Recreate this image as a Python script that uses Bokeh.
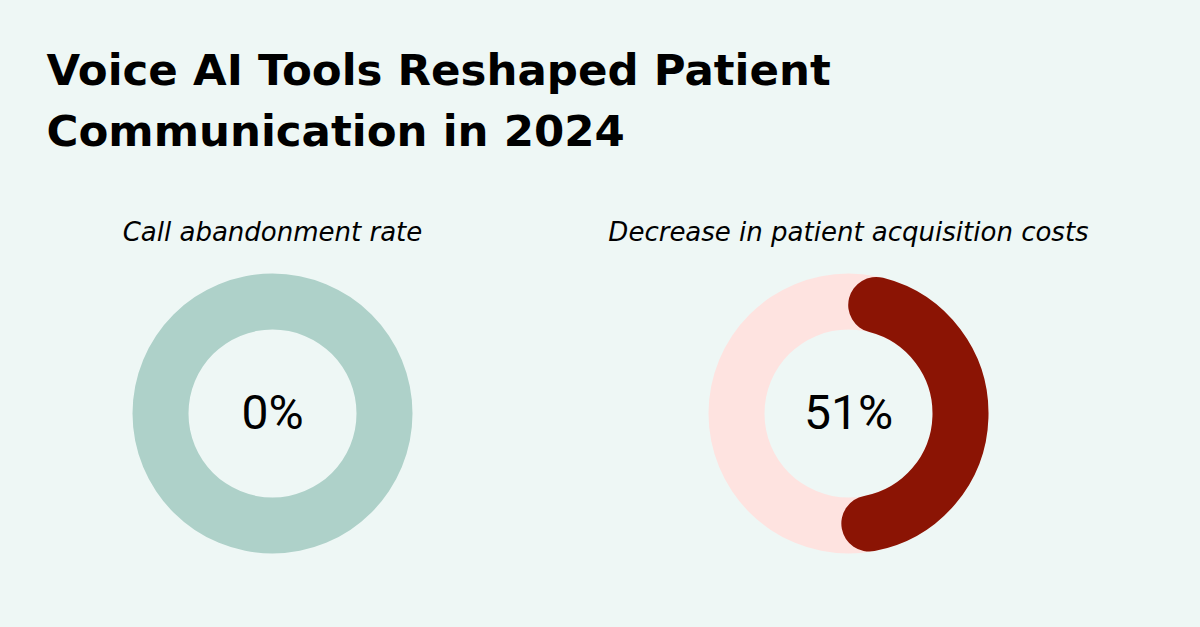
import math
from bokeh.plotting import figure
from bokeh.models import Range1d
from bokeh.core.properties import value
from bokeh.embed import file_html
from bokeh.resources import INLINE

# ---- data ----
title_lines = ["Voice AI Tools Reshaped Patient", "Communication in 2024"]
metric_labels = ["Call abandonment rate", "Decrease in patient acquisition costs"]
metric_values = [0, 51]
value_labels = ["0%", "51%"]
track_colors = ["#aed1c9", "#fee3e0"]
arc_colors = ["#aed1c9", "#8b1404"]

BG = "#eef7f5"
W, H = 1200, 627

p = figure(width=W, height=H, output_backend="svg", toolbar_location=None,
           x_range=Range1d(0, W), y_range=Range1d(0, H),
           min_border=0, min_border_left=0, min_border_right=0, min_border_top=0, min_border_bottom=0)
p.axis.visible = False
p.grid.visible = False
p.outline_line_color = None
p.background_fill_color = BG
p.border_fill_color = BG

def Y(y):
    return H - y

def txt(x, base, s, font, style, fs, align):
    # compensate renderer baseline offset (~0.4em)
    p.text(x=[x], y=[Y(base - 0.4 * fs)], text=[s], text_font=value(font),
           text_font_style=style, text_font_size="%gpx" % fs, text_color="#000000",
           text_baseline="alphabetic", text_align=align)

# title
for i, line in enumerate(title_lines):
    txt(46, 87 + 61 * i, line, "DejaVu Sans", "bold", 43.5, "left")

centers_x = [272, 848]
cy = 413
r_out, r_in = 140, 84
r_mid = (r_out + r_in) / 2
lw = r_out - r_in

for i in range(2):
    cx = centers_x[i]
    p.annulus(x=[cx], y=[Y(cy)], inner_radius=r_in, outer_radius=r_out,
              fill_color=track_colors[i], line_color=None)
    v = metric_values[i]
    if v > 0:
        span = v / 100 * 2 * math.pi
        cap = (lw / 2) / r_mid
        p.arc(x=[cx], y=[Y(cy)], radius=r_mid,
              start_angle=math.pi / 2 - (span - cap), end_angle=math.pi / 2 - cap,
              direction="anticlock", line_color=arc_colors[i], line_width=lw, line_cap="round")
    txt(cx, 242, metric_labels[i], "DejaVu Sans", "italic", 26, "center")
    txt(cx, 431, value_labels[i], "Roboto", "normal", 48, "center")

html = file_html(p, INLINE)
css = "<style>html,body{margin:0;padding:0;background:%s;overflow:hidden}</style>" % BG
html = html.replace("</head>", css + "</head>", 1)
open("out.html", "w").write(html)
